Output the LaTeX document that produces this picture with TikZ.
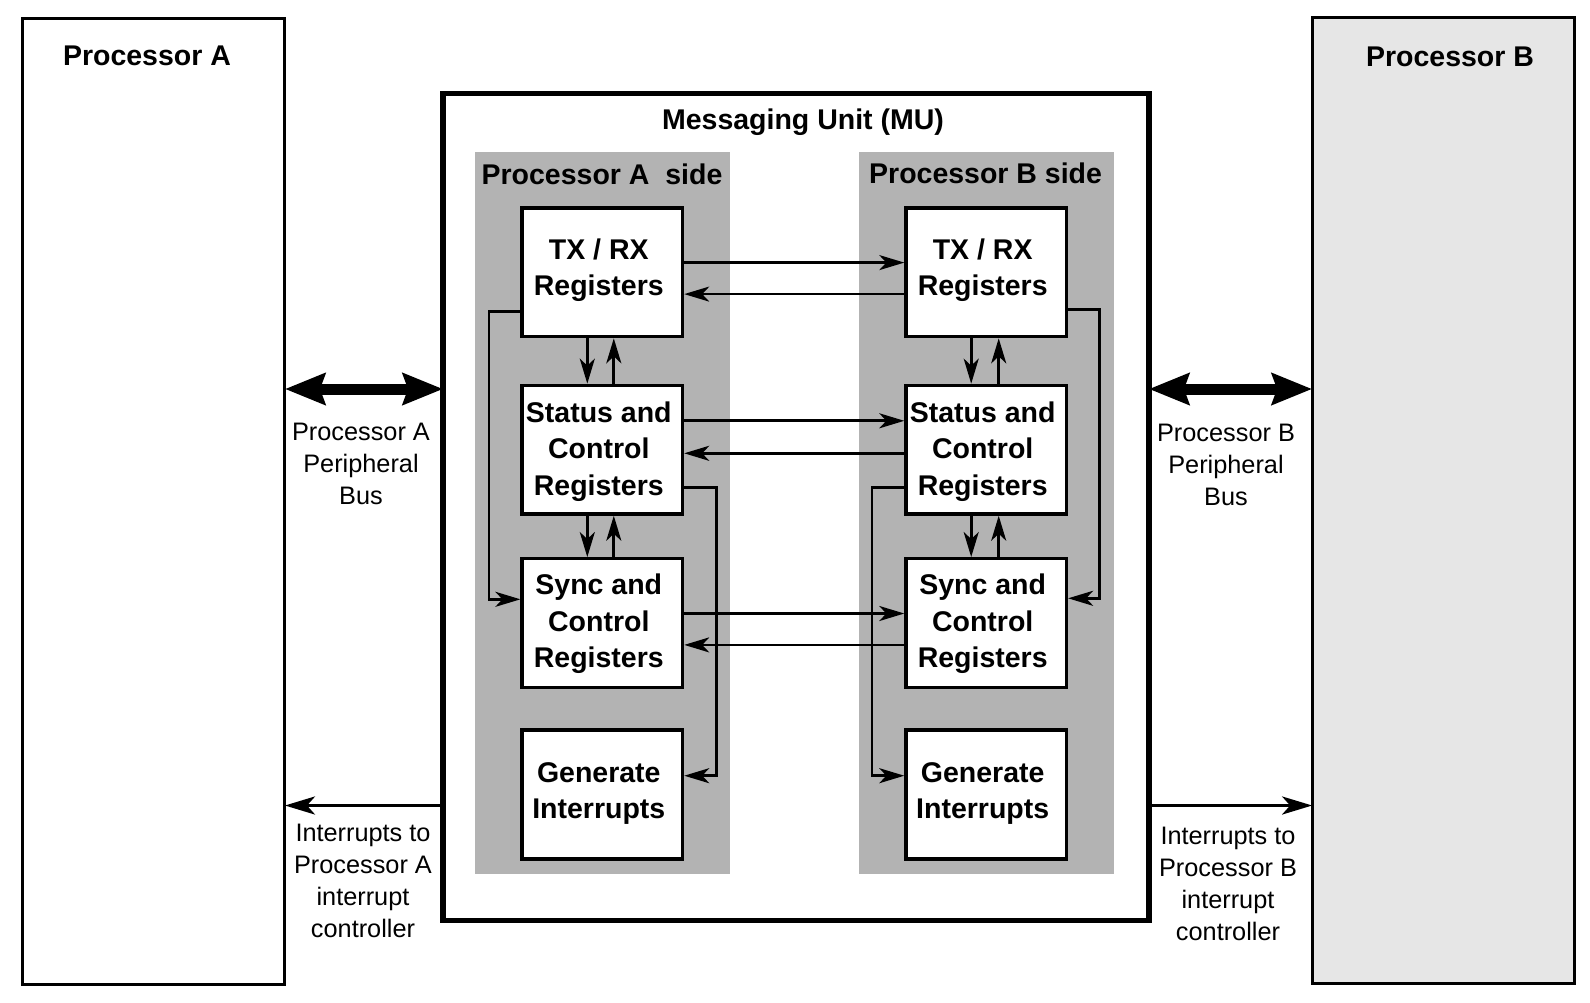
\documentclass[tikz,border=0pt]{standalone}
\usepackage{fontspec}
\setmainfont{Liberation Sans}
\usetikzlibrary{arrows.meta}
\definecolor{sidegray}{HTML}{B3B3B3}
\definecolor{procgray}{HTML}{E6E6E6}
\begin{document}
\begin{tikzpicture}[x=1pt,y=-1pt,
  bigfont/.style={font=\bfseries\fontsize{28.5}{36.5}\selectfont},
  smallfont/.style={font=\fontsize{25.3}{32}\selectfont},
  proc/.style={draw, line width=3pt, minimum width=262.7pt, minimum height=966pt, inner sep=0pt, outer sep=0pt},
  mubox/.style={draw, line width=5.5pt, minimum width=705.8pt, minimum height=827.4pt, inner sep=0pt, outer sep=0pt},
  side/.style={fill=sidegray, minimum width=255.5pt, minimum height=722pt, inner sep=0pt},
  reg/.style={draw, line width=3.3pt, fill=white, minimum width=160.5pt, minimum height=128.8pt, inner sep=0pt},
  regtext/.style={align=center, inner sep=0pt, bigfont},
  title/.style={anchor=base, inner sep=0pt, bigfont},
  lbl/.style={align=center, inner sep=0pt, smallfont},
  sarr/.style={line width=2.7pt, -{Stealth[length=25pt,width=15pt,inset=7pt]}},
  iarr/.style={line width=3.5pt, -{Stealth[length=30pt,width=18pt,inset=8pt]}},
  bus/.style={line width=11pt, {Stealth[length=40pt,width=31pt,inset=5pt]}-{Stealth[length=40pt,width=31pt,inset=5pt]}}
]
\useasboundingbox (0,0) rectangle (1590,1002);

% processors
\node[proc] (pa) at (153.6,501.5) {};
\node[proc, fill=procgray] (pb) at (1443.5,500.5) {};
\node[title] (paT) at (147,65) {Processor A};
\node[title] (pbT) at (1450,66) {Processor B};

% messaging unit
\node[mubox] (mu) at (796,507) {};
\node[title] (muT) at (803,129.5) {Messaging Unit (MU)};

% sides
\node[side] (sa) at (602.35,513.1) {};
\node[side] (sb) at (986.65,513.1) {};
\node[title] (saT) at (602,184.4) {Processor A\ \ side};
\node[title] (sbT) at (985.6,183.4) {Processor B side};

% registers A
\node[reg] (atx) at (602.3,272.3) {};
\node[reg] (ast) at (602.3,449.7) {};
\node[reg] (asy) at (602.3,623.1) {};
\node[reg] (agen) at (602.3,794.5) {};
% registers B
\node[reg] (btx) at (986.2,272.3) {};
\node[reg] (bst) at (986.2,449.7) {};
\node[reg] (bsy) at (986.2,623.1) {};
\node[reg] (bgen) at (986.2,794.5) {};

% register texts
\node[regtext] (atxT) at ([xshift=-3.5pt,yshift=2pt]atx.center) {TX / RX\\Registers};
\node[regtext] (astT) at ([xshift=-3.5pt,yshift=-1.5pt]ast.center) {Status and\\Control\\Registers};
\node[regtext] (asyT) at ([xshift=-3.5pt,yshift=-1pt]asy.center) {Sync and\\Control\\Registers};
\node[regtext] (agenT) at ([xshift=-3.5pt,yshift=1pt]agen.center) {Generate\\Interrupts};
\node[regtext] (btxT) at ([xshift=-3.5pt,yshift=2pt]btx.center) {TX / RX\\Registers};
\node[regtext] (bstT) at ([xshift=-3.5pt,yshift=-1.5pt]bst.center) {Status and\\Control\\Registers};
\node[regtext] (bsyT) at ([xshift=-3.5pt,yshift=-1pt]bsy.center) {Sync and\\Control\\Registers};
\node[regtext] (bgenT) at ([xshift=-3.5pt,yshift=1pt]bgen.center) {Generate\\Interrupts};

% horizontal arrows
\draw[sarr] ([yshift=9.7pt]atx.east) -- ([yshift=9.7pt]btx.west);
\draw[sarr] ([yshift=-21.8pt]btx.west) -- ([yshift=-21.8pt]atx.east);
\draw[sarr] ([yshift=28.9pt]ast.east) -- ([yshift=28.9pt]bst.west);
\draw[sarr] ([yshift=-3.6pt]bst.west) -- ([yshift=-3.6pt]ast.east);
\draw[sarr] ([yshift=9.6pt]asy.east) -- ([yshift=9.6pt]bsy.west);
\draw[sarr] ([yshift=-21.8pt]bsy.west) -- ([yshift=-21.8pt]asy.east);

% vertical arrows A
\draw[sarr] ([xshift=-15pt]atx.south) -- ([xshift=-15pt]ast.north);
\draw[sarr] ([xshift=11.5pt]ast.north) -- ([xshift=11.5pt]atx.south);
\draw[sarr] ([xshift=-15pt]ast.south) -- ([xshift=-15pt]asy.north);
\draw[sarr] ([xshift=11.5pt]asy.north) -- ([xshift=11.5pt]ast.south);
% vertical arrows B
\draw[sarr] ([xshift=-15pt]btx.south) -- ([xshift=-15pt]bst.north);
\draw[sarr] ([xshift=12.5pt]bst.north) -- ([xshift=12.5pt]btx.south);
\draw[sarr] ([xshift=-15pt]bst.south) -- ([xshift=-15pt]bsy.north);
\draw[sarr] ([xshift=12.5pt]bsy.north) -- ([xshift=12.5pt]bst.south);

% loops
\draw[sarr] ([yshift=-39pt]atx.west) -- ++(-31.4,0) |- ([yshift=23.8pt]asy.west);
\draw[sarr] ([yshift=-38pt]ast.east) -- ++(32.5,0) |- ([yshift=18.8pt]agen.east);
\draw[sarr] ([yshift=-37pt]btx.east) -- ++(31.4,0) |- ([yshift=24.8pt]bsy.east);
\draw[sarr] ([yshift=-38pt]bst.west) -- ++(-32.4,0) |- ([yshift=18.8pt]bgen.west);

% buses
\coordinate (busy) at (0,389);
\coordinate (inty) at (0,805.5);
\draw[bus] (pa.east |- busy) -- (mu.west |- busy);
\draw[bus] (mu.east |- busy) -- (pb.west |- busy);
\draw[iarr] (mu.west |- inty) -- (pa.east |- inty);
\draw[iarr] (mu.east |- inty) -- (pb.west |- inty);

% labels
\node[lbl] (busAL) at (361,464) {Processor A\\Peripheral\\Bus};
\node[lbl] (busBL) at (1226,465) {Processor B\\Peripheral\\Bus};
\node[lbl] (intAL) at (363,881.2) {Interrupts to\\Processor A\\interrupt\\controller};
\node[lbl] (intBL) at (1228,884.3) {Interrupts to\\Processor B\\interrupt\\controller};
\end{tikzpicture}
\end{document}
